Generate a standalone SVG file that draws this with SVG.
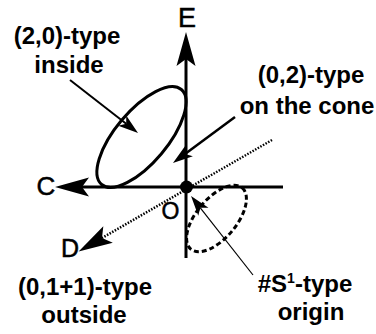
<svg xmlns="http://www.w3.org/2000/svg" width="376" height="334" viewBox="0 0 376 334">
<style>
.lbl{font-family:"Liberation Sans",Arial,sans-serif;font-weight:bold;font-size:24px;fill:#000;text-anchor:middle}
.ax{font-family:"Liberation Sans",Arial,sans-serif;font-size:25px;fill:#000;text-anchor:middle;stroke:#000;stroke-width:0.5}
.axis{stroke:#000;stroke-width:3;fill:none}
</style>
<defs>
<marker id="big" markerUnits="userSpaceOnUse" orient="auto" refX="0" refY="0" markerWidth="40" markerHeight="24" overflow="visible">
<path d="M27,0 L-7,-9.5 L0,0 L-7,9.5 Z" fill="#000"/>
</marker>
<marker id="small" markerUnits="userSpaceOnUse" orient="auto" refX="0" refY="0" markerWidth="24" markerHeight="16" overflow="visible">
<path d="M15,0 L-5,-6.5 L0,0 L-5,6.5 Z" fill="#000"/>
</marker>
</defs>
<rect width="376" height="334" fill="#fff"/>
<g id="connectors">
<line class="axis" x1="186" y1="258" x2="186" y2="59" marker-end="url(#big)"/>
<line class="axis" x1="283" y1="187" x2="82" y2="187" marker-end="url(#big)"/>
<line x1="272" y1="140" x2="102" y2="238" stroke="#000" stroke-width="2.5" stroke-dasharray="1.5,1.5" marker-end="url(#big)"/>
<line x1="70" y1="80" x2="126.2" y2="123.8" stroke="#000" stroke-width="2" marker-end="url(#small)"/>
<line x1="235" y1="117" x2="185" y2="154.1" stroke="#000" stroke-width="2.5" marker-end="url(#small)"/>
<line x1="253" y1="275" x2="200.3" y2="207.8" stroke="#000" stroke-width="1.2" marker-end="url(#small)"/>
</g>
<g id="ellipse-inside">
<ellipse cx="141.5" cy="137" rx="62" ry="26" transform="rotate(-50 141.5 137)" fill="none" stroke="#000" stroke-width="3"/>
</g>
<g id="ellipse-origin">
<ellipse cx="216.5" cy="218.5" rx="40" ry="20" transform="rotate(-50 216.5 218.5)" fill="none" stroke="#000" stroke-width="3" stroke-dasharray="5,3"/>
</g>
<g id="origin">
<circle cx="186.5" cy="187" r="6.5" fill="#000"/>
<text class="ax" x="170.5" y="219" style="font-size:23px">O</text>
</g>
<g id="axis-E"><text class="ax" x="187" y="27" style="font-size:27px">E</text></g>
<g id="axis-C"><text class="ax" x="46" y="195" style="font-size:26px">C</text></g>
<g id="axis-D"><text class="ax" x="70" y="257">D</text></g>
<g id="label-20">
<text class="lbl" x="67" y="44">(2,0)-type</text>
<text class="lbl" x="69" y="73">inside</text>
</g>
<g id="label-02">
<text class="lbl" x="311" y="83">(0,2)-type</text>
<text class="lbl" x="307" y="114">on the cone</text>
</g>
<g id="label-011">
<text class="lbl" x="85" y="295">(0,1+1)-type</text>
<text class="lbl" x="84" y="323">outside</text>
</g>
<g id="label-S1">
<text class="lbl" x="305" y="292">#S<tspan font-size="14" dy="-9">1</tspan><tspan dy="9">-type</tspan></text>
<text class="lbl" x="311" y="320">origin</text>
</g>
</svg>
